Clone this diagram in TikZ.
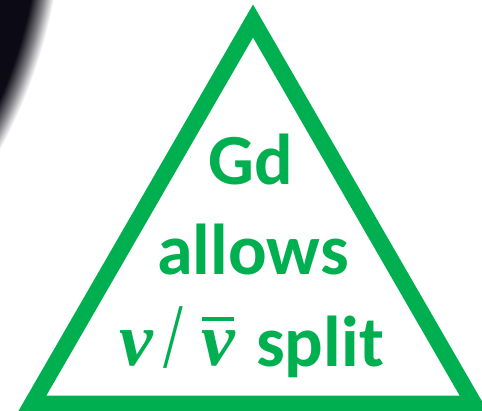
\documentclass[tikz,border=0pt]{standalone}
\usepackage{fontspec}
\usepackage{graphicx}
\setmainfont{Carlito}
\newfontfamily\nufont{Liberation Serif}
\definecolor{tgreen}{RGB}{0,176,80}
\definecolor{blobc}{RGB}{12,10,20}
\pgfdeclareradialshading{blobshade}{\pgfpoint{0bp}{0bp}}{color(0bp)=(blobc); color(23.9bp)=(blobc); color(24.5bp)=(blobc!50!white); color(25bp)=(white); color(50bp)=(white)}
\begin{document}
\begin{tikzpicture}[x=1pt,y=-1pt,
  lbl/.style={anchor=base, inner sep=0pt, text=tgreen, font=\fontsize{72}{80}\selectfont\bfseries},
  mth/.style={anchor=base, inner sep=0pt, text=tgreen, font=\nufont\fontsize{76}{80}\selectfont\bfseries\itshape},
  slsh/.style={anchor=base, inner sep=0pt, text=tgreen, font=\nufont\fontsize{71}{80}\selectfont}]
\useasboundingbox (0,0) rectangle (482,411);
% blurred dark blob top-left
\shade[shading=blobshade] (-455,-98) circle (518);
% triangle
\draw[tgreen, line width=16.5pt, miter limit=10] (253,21) coordinate (apex) -- (474,404) coordinate (br) -- (32,404) coordinate (bl) -- cycle;
% text
\node[lbl] (l1) at (251,185) {Gd};
\node[lbl] (l2) at (253,275) {allows};
\node[mth] (nu1) at (136,366) {ν};
\node[slsh] (sl) at (173,368) {\scalebox{1}[1.3]{/}};
\node[mth] (nu2) at (218,366) {ν};
\draw[tgreen, line width=3.5pt] (202,319) coordinate (barl) -- (234,319) coordinate (barr);
\node[lbl, anchor=base west] (split) at (256,367) {split};
\end{tikzpicture}
\end{document}
